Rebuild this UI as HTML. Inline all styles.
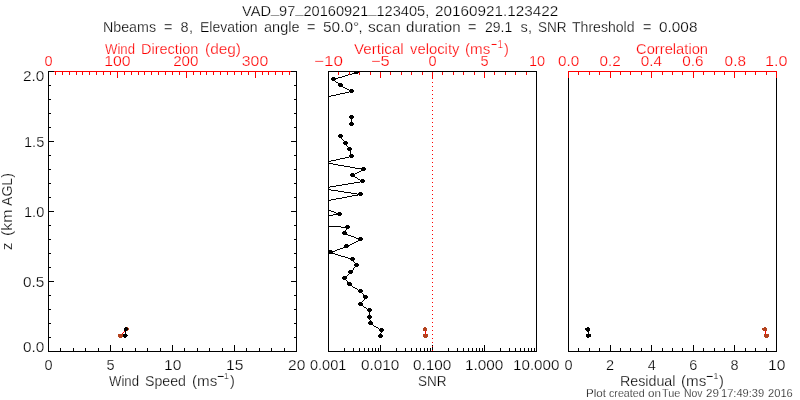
<!DOCTYPE html>
<html><head><meta charset="utf-8"><title>VAD_97_20160921_123405 wind profile</title>
<style>
html,body{margin:0;padding:0;background:#fff;width:800px;height:400px;overflow:hidden}
svg{display:block;will-change:transform}
text{font-family:"Liberation Sans",sans-serif;white-space:pre;stroke:#fff;stroke-width:0.25px}
</style></head><body>
<svg width="800" height="400" viewBox="0 0 800 400" shape-rendering="crispEdges">
<rect width="800" height="400" fill="#fff"/>
<path fill="#000000" d="M48 71h6v1h-6zM291 71h6v1h-6zM328 71h209v1h-209zM48 72h1v1h-1zM296 72h1v1h-1zM328 72h1v1h-1zM354 72h5v1h-5zM536 72h1v1h-1zM48 73h1v1h-1zM296 73h1v1h-1zM328 73h1v1h-1zM352 73h6v1h-6zM536 73h1v1h-1zM48 74h1v1h-1zM296 74h1v1h-1zM328 74h1v1h-1zM348 74h1v1h-1zM350 74h2v1h-2zM536 74h1v1h-1zM48 75h1v1h-1zM296 75h1v1h-1zM328 75h1v1h-1zM345 75h3v1h-3zM536 75h1v1h-1zM48 76h1v1h-1zM296 76h1v1h-1zM328 76h1v1h-1zM342 76h3v1h-3zM536 76h1v1h-1zM48 77h1v1h-1zM296 77h1v1h-1zM328 77h1v1h-1zM332 77h3v1h-3zM338 77h4v1h-4zM536 77h1v1h-1zM48 78h1v1h-1zM296 78h1v1h-1zM328 78h1v1h-1zM331 78h7v1h-7zM536 78h1v1h-1zM568 78h1v1h-1zM776 78h1v1h-1zM48 79h1v1h-1zM296 79h1v1h-1zM328 79h1v1h-1zM331 79h5v1h-5zM536 79h1v1h-1zM568 79h1v1h-1zM776 79h1v1h-1zM48 80h1v1h-1zM296 80h1v1h-1zM328 80h1v1h-1zM332 80h3v1h-3zM536 80h1v1h-1zM568 80h1v1h-1zM776 80h1v1h-1zM48 81h1v1h-1zM296 81h1v1h-1zM328 81h1v1h-1zM335 81h1v1h-1zM536 81h1v1h-1zM568 81h1v1h-1zM776 81h1v1h-1zM48 82h1v1h-1zM296 82h1v1h-1zM328 82h1v1h-1zM336 82h2v1h-2zM536 82h1v1h-1zM568 82h1v1h-1zM776 82h1v1h-1zM48 83h1v1h-1zM296 83h1v1h-1zM328 83h1v1h-1zM338 83h4v1h-4zM536 83h1v1h-1zM568 83h1v1h-1zM776 83h1v1h-1zM48 84h1v1h-1zM296 84h1v1h-1zM328 84h1v1h-1zM338 84h5v1h-5zM536 84h1v1h-1zM568 84h1v1h-1zM776 84h1v1h-1zM48 85h3v1h-3zM294 85h3v1h-3zM328 85h1v1h-1zM338 85h5v1h-5zM536 85h1v1h-1zM568 85h1v1h-1zM776 85h1v1h-1zM48 86h1v1h-1zM296 86h1v1h-1zM328 86h1v1h-1zM339 86h4v1h-4zM536 86h1v1h-1zM568 86h1v1h-1zM776 86h1v1h-1zM48 87h1v1h-1zM296 87h1v1h-1zM328 87h1v1h-1zM343 87h2v1h-2zM536 87h1v1h-1zM568 87h1v1h-1zM776 87h1v1h-1zM48 88h1v1h-1zM296 88h1v1h-1zM328 88h1v1h-1zM345 88h2v1h-2zM536 88h1v1h-1zM568 88h1v1h-1zM776 88h1v1h-1zM48 89h1v1h-1zM296 89h1v1h-1zM328 89h1v1h-1zM347 89h2v1h-2zM350 89h3v1h-3zM536 89h1v1h-1zM568 89h1v1h-1zM776 89h1v1h-1zM48 90h1v1h-1zM296 90h1v1h-1zM328 90h1v1h-1zM349 90h5v1h-5zM536 90h1v1h-1zM568 90h1v1h-1zM776 90h1v1h-1zM48 91h1v1h-1zM296 91h1v1h-1zM328 91h1v1h-1zM349 91h5v1h-5zM536 91h1v1h-1zM568 91h1v1h-1zM776 91h1v1h-1zM48 92h1v1h-1zM296 92h1v1h-1zM328 92h1v1h-1zM345 92h4v1h-4zM350 92h3v1h-3zM536 92h1v1h-1zM568 92h1v1h-1zM776 92h1v1h-1zM48 93h1v1h-1zM296 93h1v1h-1zM328 93h1v1h-1zM340 93h5v1h-5zM536 93h1v1h-1zM568 93h1v1h-1zM776 93h1v1h-1zM48 94h1v1h-1zM296 94h1v1h-1zM328 94h1v1h-1zM336 94h4v1h-4zM536 94h1v1h-1zM568 94h1v1h-1zM776 94h1v1h-1zM48 95h1v1h-1zM296 95h1v1h-1zM328 95h1v1h-1zM331 95h5v1h-5zM536 95h1v1h-1zM568 95h1v1h-1zM776 95h1v1h-1zM48 96h1v1h-1zM296 96h1v1h-1zM328 96h3v1h-3zM536 96h1v1h-1zM568 96h1v1h-1zM776 96h1v1h-1zM48 97h1v1h-1zM296 97h1v1h-1zM328 97h1v1h-1zM536 97h1v1h-1zM568 97h1v1h-1zM776 97h1v1h-1zM48 98h1v1h-1zM296 98h1v1h-1zM328 98h1v1h-1zM536 98h1v1h-1zM568 98h1v1h-1zM776 98h1v1h-1zM48 99h3v1h-3zM294 99h3v1h-3zM328 99h1v1h-1zM536 99h1v1h-1zM568 99h1v1h-1zM776 99h1v1h-1zM48 100h1v1h-1zM296 100h1v1h-1zM328 100h1v1h-1zM536 100h1v1h-1zM568 100h1v1h-1zM776 100h1v1h-1zM48 101h1v1h-1zM296 101h1v1h-1zM328 101h1v1h-1zM536 101h1v1h-1zM568 101h1v1h-1zM776 101h1v1h-1zM48 102h1v1h-1zM296 102h1v1h-1zM328 102h1v1h-1zM536 102h1v1h-1zM568 102h1v1h-1zM776 102h1v1h-1zM48 103h1v1h-1zM296 103h1v1h-1zM328 103h1v1h-1zM536 103h1v1h-1zM568 103h1v1h-1zM776 103h1v1h-1zM48 104h1v1h-1zM296 104h1v1h-1zM328 104h1v1h-1zM536 104h1v1h-1zM568 104h1v1h-1zM776 104h1v1h-1zM48 105h1v1h-1zM296 105h1v1h-1zM328 105h1v1h-1zM536 105h1v1h-1zM568 105h1v1h-1zM776 105h1v1h-1zM48 106h1v1h-1zM296 106h1v1h-1zM328 106h1v1h-1zM536 106h1v1h-1zM568 106h1v1h-1zM776 106h1v1h-1zM48 107h1v1h-1zM296 107h1v1h-1zM328 107h1v1h-1zM536 107h1v1h-1zM568 107h1v1h-1zM776 107h1v1h-1zM48 108h1v1h-1zM296 108h1v1h-1zM328 108h1v1h-1zM536 108h1v1h-1zM568 108h1v1h-1zM776 108h1v1h-1zM48 109h1v1h-1zM296 109h1v1h-1zM328 109h1v1h-1zM536 109h1v1h-1zM568 109h1v1h-1zM776 109h1v1h-1zM48 110h1v1h-1zM296 110h1v1h-1zM328 110h1v1h-1zM536 110h1v1h-1zM568 110h1v1h-1zM776 110h1v1h-1zM48 111h1v1h-1zM296 111h1v1h-1zM328 111h1v1h-1zM536 111h1v1h-1zM568 111h1v1h-1zM776 111h1v1h-1zM48 112h1v1h-1zM296 112h1v1h-1zM328 112h1v1h-1zM536 112h1v1h-1zM568 112h1v1h-1zM776 112h1v1h-1zM48 113h3v1h-3zM294 113h3v1h-3zM328 113h1v1h-1zM536 113h1v1h-1zM568 113h1v1h-1zM776 113h1v1h-1zM48 114h1v1h-1zM296 114h1v1h-1zM328 114h1v1h-1zM536 114h1v1h-1zM568 114h1v1h-1zM776 114h1v1h-1zM48 115h1v1h-1zM296 115h1v1h-1zM328 115h1v1h-1zM350 115h3v1h-3zM536 115h1v1h-1zM568 115h1v1h-1zM776 115h1v1h-1zM48 116h1v1h-1zM296 116h1v1h-1zM328 116h1v1h-1zM349 116h5v1h-5zM536 116h1v1h-1zM568 116h1v1h-1zM776 116h1v1h-1zM48 117h1v1h-1zM296 117h1v1h-1zM328 117h1v1h-1zM349 117h5v1h-5zM536 117h1v1h-1zM568 117h1v1h-1zM776 117h1v1h-1zM48 118h1v1h-1zM296 118h1v1h-1zM328 118h1v1h-1zM350 118h3v1h-3zM536 118h1v1h-1zM568 118h1v1h-1zM776 118h1v1h-1zM48 119h1v1h-1zM296 119h1v1h-1zM328 119h1v1h-1zM351 119h1v1h-1zM536 119h1v1h-1zM568 119h1v1h-1zM776 119h1v1h-1zM48 120h1v1h-1zM296 120h1v1h-1zM328 120h1v1h-1zM351 120h1v1h-1zM536 120h1v1h-1zM568 120h1v1h-1zM776 120h1v1h-1zM48 121h1v1h-1zM296 121h1v1h-1zM328 121h1v1h-1zM351 121h1v1h-1zM536 121h1v1h-1zM568 121h1v1h-1zM776 121h1v1h-1zM48 122h1v1h-1zM296 122h1v1h-1zM328 122h1v1h-1zM350 122h3v1h-3zM536 122h1v1h-1zM568 122h1v1h-1zM776 122h1v1h-1zM48 123h1v1h-1zM296 123h1v1h-1zM328 123h1v1h-1zM349 123h5v1h-5zM536 123h1v1h-1zM568 123h1v1h-1zM776 123h1v1h-1zM48 124h1v1h-1zM296 124h1v1h-1zM328 124h1v1h-1zM349 124h5v1h-5zM536 124h1v1h-1zM568 124h1v1h-1zM776 124h1v1h-1zM48 125h1v1h-1zM296 125h1v1h-1zM328 125h1v1h-1zM350 125h3v1h-3zM536 125h1v1h-1zM568 125h1v1h-1zM776 125h1v1h-1zM48 126h1v1h-1zM296 126h1v1h-1zM328 126h1v1h-1zM536 126h1v1h-1zM568 126h1v1h-1zM776 126h1v1h-1zM48 127h3v1h-3zM294 127h3v1h-3zM328 127h1v1h-1zM536 127h1v1h-1zM568 127h1v1h-1zM776 127h1v1h-1zM48 128h1v1h-1zM296 128h1v1h-1zM328 128h1v1h-1zM536 128h1v1h-1zM568 128h1v1h-1zM776 128h1v1h-1zM48 129h1v1h-1zM296 129h1v1h-1zM328 129h1v1h-1zM536 129h1v1h-1zM568 129h1v1h-1zM776 129h1v1h-1zM48 130h1v1h-1zM296 130h1v1h-1zM328 130h1v1h-1zM536 130h1v1h-1zM568 130h1v1h-1zM776 130h1v1h-1zM48 131h1v1h-1zM296 131h1v1h-1zM328 131h1v1h-1zM536 131h1v1h-1zM568 131h1v1h-1zM776 131h1v1h-1zM48 132h1v1h-1zM296 132h1v1h-1zM328 132h1v1h-1zM536 132h1v1h-1zM568 132h1v1h-1zM776 132h1v1h-1zM48 133h1v1h-1zM296 133h1v1h-1zM328 133h1v1h-1zM536 133h1v1h-1zM568 133h1v1h-1zM776 133h1v1h-1zM48 134h1v1h-1zM296 134h1v1h-1zM328 134h1v1h-1zM339 134h3v1h-3zM536 134h1v1h-1zM568 134h1v1h-1zM776 134h1v1h-1zM48 135h1v1h-1zM296 135h1v1h-1zM328 135h1v1h-1zM338 135h5v1h-5zM536 135h1v1h-1zM568 135h1v1h-1zM776 135h1v1h-1zM48 136h1v1h-1zM296 136h1v1h-1zM328 136h1v1h-1zM338 136h5v1h-5zM536 136h1v1h-1zM568 136h1v1h-1zM776 136h1v1h-1zM48 137h1v1h-1zM296 137h1v1h-1zM328 137h1v1h-1zM339 137h3v1h-3zM536 137h1v1h-1zM568 137h1v1h-1zM776 137h1v1h-1zM48 138h1v1h-1zM296 138h1v1h-1zM328 138h1v1h-1zM341 138h1v1h-1zM536 138h1v1h-1zM568 138h1v1h-1zM776 138h1v1h-1zM48 139h1v1h-1zM296 139h1v1h-1zM328 139h1v1h-1zM342 139h1v1h-1zM536 139h1v1h-1zM568 139h1v1h-1zM776 139h1v1h-1zM48 140h1v1h-1zM296 140h1v1h-1zM328 140h1v1h-1zM343 140h1v1h-1zM536 140h1v1h-1zM568 140h1v1h-1zM776 140h1v1h-1zM48 141h6v1h-6zM291 141h6v1h-6zM328 141h1v1h-1zM344 141h3v1h-3zM536 141h1v1h-1zM568 141h1v1h-1zM776 141h1v1h-1zM48 142h1v1h-1zM296 142h1v1h-1zM328 142h1v1h-1zM343 142h5v1h-5zM536 142h1v1h-1zM568 142h1v1h-1zM776 142h1v1h-1zM48 143h1v1h-1zM296 143h1v1h-1zM328 143h1v1h-1zM343 143h5v1h-5zM536 143h1v1h-1zM568 143h1v1h-1zM776 143h1v1h-1zM48 144h1v1h-1zM296 144h1v1h-1zM328 144h1v1h-1zM344 144h3v1h-3zM536 144h1v1h-1zM568 144h1v1h-1zM776 144h1v1h-1zM48 145h1v1h-1zM296 145h1v1h-1zM328 145h1v1h-1zM346 145h1v1h-1zM536 145h1v1h-1zM568 145h1v1h-1zM776 145h1v1h-1zM48 146h1v1h-1zM296 146h1v1h-1zM328 146h1v1h-1zM347 146h1v1h-1zM536 146h1v1h-1zM568 146h1v1h-1zM776 146h1v1h-1zM48 147h1v1h-1zM296 147h1v1h-1zM328 147h1v1h-1zM348 147h3v1h-3zM536 147h1v1h-1zM568 147h1v1h-1zM776 147h1v1h-1zM48 148h1v1h-1zM296 148h1v1h-1zM328 148h1v1h-1zM347 148h5v1h-5zM536 148h1v1h-1zM568 148h1v1h-1zM776 148h1v1h-1zM48 149h1v1h-1zM296 149h1v1h-1zM328 149h1v1h-1zM347 149h5v1h-5zM536 149h1v1h-1zM568 149h1v1h-1zM776 149h1v1h-1zM48 150h1v1h-1zM296 150h1v1h-1zM328 150h1v1h-1zM348 150h3v1h-3zM536 150h1v1h-1zM568 150h1v1h-1zM776 150h1v1h-1zM48 151h1v1h-1zM296 151h1v1h-1zM328 151h1v1h-1zM350 151h1v1h-1zM536 151h1v1h-1zM568 151h1v1h-1zM776 151h1v1h-1zM48 152h1v1h-1zM296 152h1v1h-1zM328 152h1v1h-1zM350 152h1v1h-1zM536 152h1v1h-1zM568 152h1v1h-1zM776 152h1v1h-1zM48 153h1v1h-1zM296 153h1v1h-1zM328 153h1v1h-1zM350 153h1v1h-1zM536 153h1v1h-1zM568 153h1v1h-1zM776 153h1v1h-1zM48 154h1v1h-1zM296 154h1v1h-1zM328 154h1v1h-1zM350 154h3v1h-3zM536 154h1v1h-1zM568 154h1v1h-1zM776 154h1v1h-1zM48 155h3v1h-3zM294 155h3v1h-3zM328 155h1v1h-1zM349 155h5v1h-5zM536 155h1v1h-1zM568 155h1v1h-1zM776 155h1v1h-1zM48 156h1v1h-1zM296 156h1v1h-1zM328 156h1v1h-1zM349 156h5v1h-5zM536 156h1v1h-1zM568 156h1v1h-1zM776 156h1v1h-1zM48 157h1v1h-1zM296 157h1v1h-1zM328 157h1v1h-1zM345 157h4v1h-4zM350 157h3v1h-3zM536 157h1v1h-1zM568 157h1v1h-1zM776 157h1v1h-1zM48 158h1v1h-1zM296 158h1v1h-1zM328 158h1v1h-1zM340 158h5v1h-5zM536 158h1v1h-1zM568 158h1v1h-1zM776 158h1v1h-1zM48 159h1v1h-1zM296 159h1v1h-1zM328 159h1v1h-1zM336 159h4v1h-4zM536 159h1v1h-1zM568 159h1v1h-1zM776 159h1v1h-1zM48 160h1v1h-1zM296 160h1v1h-1zM328 160h1v1h-1zM331 160h5v1h-5zM536 160h1v1h-1zM568 160h1v1h-1zM776 160h1v1h-1zM48 161h1v1h-1zM296 161h1v1h-1zM328 161h3v1h-3zM536 161h1v1h-1zM568 161h1v1h-1zM776 161h1v1h-1zM48 162h1v1h-1zM296 162h1v1h-1zM328 162h1v1h-1zM536 162h1v1h-1zM568 162h1v1h-1zM776 162h1v1h-1zM48 163h1v1h-1zM296 163h1v1h-1zM328 163h5v1h-5zM536 163h1v1h-1zM568 163h1v1h-1zM776 163h1v1h-1zM48 164h1v1h-1zM296 164h1v1h-1zM328 164h1v1h-1zM333 164h5v1h-5zM536 164h1v1h-1zM568 164h1v1h-1zM776 164h1v1h-1zM48 165h1v1h-1zM296 165h1v1h-1zM328 165h1v1h-1zM338 165h6v1h-6zM536 165h1v1h-1zM568 165h1v1h-1zM776 165h1v1h-1zM48 166h1v1h-1zM296 166h1v1h-1zM328 166h1v1h-1zM344 166h6v1h-6zM536 166h1v1h-1zM568 166h1v1h-1zM776 166h1v1h-1zM48 167h1v1h-1zM296 167h1v1h-1zM328 167h1v1h-1zM350 167h5v1h-5zM362 167h3v1h-3zM536 167h1v1h-1zM568 167h1v1h-1zM776 167h1v1h-1zM48 168h1v1h-1zM296 168h1v1h-1zM328 168h1v1h-1zM355 168h11v1h-11zM536 168h1v1h-1zM568 168h1v1h-1zM776 168h1v1h-1zM48 169h3v1h-3zM294 169h3v1h-3zM328 169h1v1h-1zM361 169h5v1h-5zM536 169h1v1h-1zM568 169h1v1h-1zM776 169h1v1h-1zM48 170h1v1h-1zM296 170h1v1h-1zM328 170h1v1h-1zM361 170h4v1h-4zM536 170h1v1h-1zM568 170h1v1h-1zM776 170h1v1h-1zM48 171h1v1h-1zM296 171h1v1h-1zM328 171h1v1h-1zM359 171h2v1h-2zM536 171h1v1h-1zM568 171h1v1h-1zM776 171h1v1h-1zM48 172h1v1h-1zM296 172h1v1h-1zM328 172h1v1h-1zM357 172h2v1h-2zM536 172h1v1h-1zM568 172h1v1h-1zM776 172h1v1h-1zM48 173h1v1h-1zM296 173h1v1h-1zM328 173h1v1h-1zM351 173h3v1h-3zM355 173h2v1h-2zM536 173h1v1h-1zM568 173h1v1h-1zM776 173h1v1h-1zM48 174h1v1h-1zM296 174h1v1h-1zM328 174h1v1h-1zM350 174h5v1h-5zM536 174h1v1h-1zM568 174h1v1h-1zM776 174h1v1h-1zM48 175h1v1h-1zM296 175h1v1h-1zM328 175h1v1h-1zM350 175h5v1h-5zM536 175h1v1h-1zM568 175h1v1h-1zM776 175h1v1h-1zM48 176h1v1h-1zM296 176h1v1h-1zM328 176h1v1h-1zM351 176h4v1h-4zM536 176h1v1h-1zM568 176h1v1h-1zM776 176h1v1h-1zM48 177h1v1h-1zM296 177h1v1h-1zM328 177h1v1h-1zM355 177h2v1h-2zM536 177h1v1h-1zM568 177h1v1h-1zM776 177h1v1h-1zM48 178h1v1h-1zM296 178h1v1h-1zM328 178h1v1h-1zM357 178h1v1h-1zM536 178h1v1h-1zM568 178h1v1h-1zM776 178h1v1h-1zM48 179h1v1h-1zM296 179h1v1h-1zM328 179h1v1h-1zM358 179h2v1h-2zM361 179h3v1h-3zM536 179h1v1h-1zM568 179h1v1h-1zM776 179h1v1h-1zM48 180h1v1h-1zM296 180h1v1h-1zM328 180h1v1h-1zM360 180h5v1h-5zM536 180h1v1h-1zM568 180h1v1h-1zM776 180h1v1h-1zM48 181h1v1h-1zM296 181h1v1h-1zM328 181h1v1h-1zM360 181h5v1h-5zM536 181h1v1h-1zM568 181h1v1h-1zM776 181h1v1h-1zM48 182h1v1h-1zM296 182h1v1h-1zM328 182h1v1h-1zM354 182h6v1h-6zM361 182h3v1h-3zM536 182h1v1h-1zM568 182h1v1h-1zM776 182h1v1h-1zM48 183h3v1h-3zM294 183h3v1h-3zM328 183h1v1h-1zM348 183h6v1h-6zM536 183h1v1h-1zM568 183h1v1h-1zM776 183h1v1h-1zM48 184h1v1h-1zM296 184h1v1h-1zM328 184h1v1h-1zM342 184h6v1h-6zM536 184h1v1h-1zM568 184h1v1h-1zM776 184h1v1h-1zM48 185h1v1h-1zM296 185h1v1h-1zM328 185h1v1h-1zM336 185h6v1h-6zM536 185h1v1h-1zM568 185h1v1h-1zM776 185h1v1h-1zM48 186h1v1h-1zM296 186h1v1h-1zM328 186h1v1h-1zM330 186h6v1h-6zM536 186h1v1h-1zM568 186h1v1h-1zM776 186h1v1h-1zM48 187h1v1h-1zM296 187h1v1h-1zM328 187h2v1h-2zM536 187h1v1h-1zM568 187h1v1h-1zM776 187h1v1h-1zM48 188h1v1h-1zM296 188h1v1h-1zM328 188h1v1h-1zM536 188h1v1h-1zM568 188h1v1h-1zM776 188h1v1h-1zM48 189h1v1h-1zM296 189h1v1h-1zM328 189h3v1h-3zM536 189h1v1h-1zM568 189h1v1h-1zM776 189h1v1h-1zM48 190h1v1h-1zM296 190h1v1h-1zM328 190h1v1h-1zM331 190h7v1h-7zM536 190h1v1h-1zM568 190h1v1h-1zM776 190h1v1h-1zM48 191h1v1h-1zM296 191h1v1h-1zM328 191h1v1h-1zM338 191h6v1h-6zM536 191h1v1h-1zM568 191h1v1h-1zM776 191h1v1h-1zM48 192h1v1h-1zM296 192h1v1h-1zM328 192h1v1h-1zM344 192h7v1h-7zM359 192h3v1h-3zM536 192h1v1h-1zM568 192h1v1h-1zM776 192h1v1h-1zM48 193h1v1h-1zM296 193h1v1h-1zM328 193h1v1h-1zM351 193h6v1h-6zM358 193h5v1h-5zM536 193h1v1h-1zM568 193h1v1h-1zM776 193h1v1h-1zM48 194h1v1h-1zM296 194h1v1h-1zM328 194h1v1h-1zM357 194h6v1h-6zM536 194h1v1h-1zM568 194h1v1h-1zM776 194h1v1h-1zM48 195h1v1h-1zM296 195h1v1h-1zM328 195h1v1h-1zM352 195h6v1h-6zM359 195h3v1h-3zM536 195h1v1h-1zM568 195h1v1h-1zM776 195h1v1h-1zM48 196h1v1h-1zM296 196h1v1h-1zM328 196h1v1h-1zM347 196h5v1h-5zM536 196h1v1h-1zM568 196h1v1h-1zM776 196h1v1h-1zM48 197h3v1h-3zM294 197h3v1h-3zM328 197h1v1h-1zM342 197h5v1h-5zM536 197h1v1h-1zM568 197h1v1h-1zM776 197h1v1h-1zM48 198h1v1h-1zM296 198h1v1h-1zM328 198h1v1h-1zM336 198h6v1h-6zM536 198h1v1h-1zM568 198h1v1h-1zM776 198h1v1h-1zM48 199h1v1h-1zM296 199h1v1h-1zM328 199h1v1h-1zM331 199h5v1h-5zM536 199h1v1h-1zM568 199h1v1h-1zM776 199h1v1h-1zM48 200h1v1h-1zM296 200h1v1h-1zM328 200h3v1h-3zM536 200h1v1h-1zM568 200h1v1h-1zM776 200h1v1h-1zM48 201h1v1h-1zM296 201h1v1h-1zM328 201h1v1h-1zM536 201h1v1h-1zM568 201h1v1h-1zM776 201h1v1h-1zM48 202h1v1h-1zM296 202h1v1h-1zM328 202h1v1h-1zM536 202h1v1h-1zM568 202h1v1h-1zM776 202h1v1h-1zM48 203h1v1h-1zM296 203h1v1h-1zM328 203h1v1h-1zM536 203h1v1h-1zM568 203h1v1h-1zM776 203h1v1h-1zM48 204h1v1h-1zM296 204h1v1h-1zM328 204h1v1h-1zM536 204h1v1h-1zM568 204h1v1h-1zM776 204h1v1h-1zM48 205h1v1h-1zM296 205h1v1h-1zM328 205h1v1h-1zM536 205h1v1h-1zM568 205h1v1h-1zM776 205h1v1h-1zM48 206h1v1h-1zM296 206h1v1h-1zM328 206h1v1h-1zM536 206h1v1h-1zM568 206h1v1h-1zM776 206h1v1h-1zM48 207h1v1h-1zM296 207h1v1h-1zM328 207h1v1h-1zM536 207h1v1h-1zM568 207h1v1h-1zM776 207h1v1h-1zM48 208h1v1h-1zM296 208h1v1h-1zM328 208h1v1h-1zM536 208h1v1h-1zM568 208h1v1h-1zM776 208h1v1h-1zM48 209h1v1h-1zM296 209h1v1h-1zM328 209h1v1h-1zM536 209h1v1h-1zM568 209h1v1h-1zM776 209h1v1h-1zM48 210h1v1h-1zM296 210h1v1h-1zM328 210h3v1h-3zM536 210h1v1h-1zM568 210h1v1h-1zM776 210h1v1h-1zM48 211h6v1h-6zM291 211h6v1h-6zM328 211h1v1h-1zM331 211h3v1h-3zM536 211h1v1h-1zM568 211h1v1h-1zM776 211h1v1h-1zM48 212h1v1h-1zM296 212h1v1h-1zM328 212h1v1h-1zM334 212h2v1h-2zM338 212h3v1h-3zM536 212h1v1h-1zM568 212h1v1h-1zM776 212h1v1h-1zM48 213h1v1h-1zM296 213h1v1h-1zM328 213h1v1h-1zM336 213h6v1h-6zM536 213h1v1h-1zM568 213h1v1h-1zM776 213h1v1h-1zM48 214h1v1h-1zM296 214h1v1h-1zM328 214h1v1h-1zM333 214h9v1h-9zM536 214h1v1h-1zM568 214h1v1h-1zM776 214h1v1h-1zM48 215h1v1h-1zM296 215h1v1h-1zM328 215h5v1h-5zM338 215h3v1h-3zM536 215h1v1h-1zM568 215h1v1h-1zM776 215h1v1h-1zM48 216h1v1h-1zM296 216h1v1h-1zM328 216h1v1h-1zM536 216h1v1h-1zM568 216h1v1h-1zM776 216h1v1h-1zM48 217h1v1h-1zM296 217h1v1h-1zM328 217h1v1h-1zM536 217h1v1h-1zM568 217h1v1h-1zM776 217h1v1h-1zM48 218h1v1h-1zM296 218h1v1h-1zM328 218h1v1h-1zM536 218h1v1h-1zM568 218h1v1h-1zM776 218h1v1h-1zM48 219h1v1h-1zM296 219h1v1h-1zM328 219h1v1h-1zM536 219h1v1h-1zM568 219h1v1h-1zM776 219h1v1h-1zM48 220h1v1h-1zM296 220h1v1h-1zM328 220h1v1h-1zM536 220h1v1h-1zM568 220h1v1h-1zM776 220h1v1h-1zM48 221h1v1h-1zM296 221h1v1h-1zM328 221h1v1h-1zM536 221h1v1h-1zM568 221h1v1h-1zM776 221h1v1h-1zM48 222h1v1h-1zM296 222h1v1h-1zM328 222h1v1h-1zM536 222h1v1h-1zM568 222h1v1h-1zM776 222h1v1h-1zM48 223h1v1h-1zM296 223h1v1h-1zM328 223h1v1h-1zM536 223h1v1h-1zM568 223h1v1h-1zM776 223h1v1h-1zM48 224h1v1h-1zM296 224h1v1h-1zM328 224h1v1h-1zM536 224h1v1h-1zM568 224h1v1h-1zM776 224h1v1h-1zM48 225h3v1h-3zM294 225h3v1h-3zM328 225h1v1h-1zM346 225h3v1h-3zM536 225h1v1h-1zM568 225h1v1h-1zM776 225h1v1h-1zM48 226h1v1h-1zM296 226h1v1h-1zM328 226h13v1h-13zM345 226h5v1h-5zM536 226h1v1h-1zM568 226h1v1h-1zM776 226h1v1h-1zM48 227h1v1h-1zM296 227h1v1h-1zM328 227h1v1h-1zM341 227h9v1h-9zM536 227h1v1h-1zM568 227h1v1h-1zM776 227h1v1h-1zM48 228h1v1h-1zM296 228h1v1h-1zM328 228h1v1h-1zM346 228h3v1h-3zM536 228h1v1h-1zM568 228h1v1h-1zM776 228h1v1h-1zM48 229h1v1h-1zM296 229h1v1h-1zM328 229h1v1h-1zM346 229h1v1h-1zM536 229h1v1h-1zM568 229h1v1h-1zM776 229h1v1h-1zM48 230h1v1h-1zM296 230h1v1h-1zM328 230h1v1h-1zM345 230h1v1h-1zM536 230h1v1h-1zM568 230h1v1h-1zM776 230h1v1h-1zM48 231h1v1h-1zM296 231h1v1h-1zM328 231h1v1h-1zM343 231h3v1h-3zM536 231h1v1h-1zM568 231h1v1h-1zM776 231h1v1h-1zM48 232h1v1h-1zM296 232h1v1h-1zM328 232h1v1h-1zM342 232h5v1h-5zM536 232h1v1h-1zM568 232h1v1h-1zM776 232h1v1h-1zM48 233h1v1h-1zM296 233h1v1h-1zM328 233h1v1h-1zM342 233h5v1h-5zM536 233h1v1h-1zM568 233h1v1h-1zM776 233h1v1h-1zM48 234h1v1h-1zM296 234h1v1h-1zM328 234h1v1h-1zM343 234h5v1h-5zM536 234h1v1h-1zM568 234h1v1h-1zM776 234h1v1h-1zM48 235h1v1h-1zM296 235h1v1h-1zM328 235h1v1h-1zM348 235h3v1h-3zM536 235h1v1h-1zM568 235h1v1h-1zM776 235h1v1h-1zM48 236h1v1h-1zM296 236h1v1h-1zM328 236h1v1h-1zM351 236h3v1h-3zM536 236h1v1h-1zM568 236h1v1h-1zM776 236h1v1h-1zM48 237h1v1h-1zM296 237h1v1h-1zM328 237h1v1h-1zM354 237h2v1h-2zM359 237h3v1h-3zM536 237h1v1h-1zM568 237h1v1h-1zM776 237h1v1h-1zM48 238h1v1h-1zM296 238h1v1h-1zM328 238h1v1h-1zM356 238h7v1h-7zM536 238h1v1h-1zM568 238h1v1h-1zM776 238h1v1h-1zM48 239h3v1h-3zM294 239h3v1h-3zM328 239h1v1h-1zM358 239h5v1h-5zM536 239h1v1h-1zM568 239h1v1h-1zM776 239h1v1h-1zM48 240h1v1h-1zM296 240h1v1h-1zM328 240h1v1h-1zM358 240h4v1h-4zM536 240h1v1h-1zM568 240h1v1h-1zM776 240h1v1h-1zM48 241h1v1h-1zM296 241h1v1h-1zM328 241h1v1h-1zM356 241h2v1h-2zM536 241h1v1h-1zM568 241h1v1h-1zM776 241h1v1h-1zM48 242h1v1h-1zM296 242h1v1h-1zM328 242h1v1h-1zM354 242h2v1h-2zM536 242h1v1h-1zM568 242h1v1h-1zM776 242h1v1h-1zM48 243h1v1h-1zM296 243h1v1h-1zM328 243h1v1h-1zM352 243h2v1h-2zM536 243h1v1h-1zM568 243h1v1h-1zM776 243h1v1h-1zM48 244h1v1h-1zM296 244h1v1h-1zM328 244h1v1h-1zM345 244h3v1h-3zM350 244h2v1h-2zM536 244h1v1h-1zM568 244h1v1h-1zM776 244h1v1h-1zM48 245h1v1h-1zM296 245h1v1h-1zM328 245h1v1h-1zM344 245h6v1h-6zM536 245h1v1h-1zM568 245h1v1h-1zM776 245h1v1h-1zM48 246h1v1h-1zM296 246h1v1h-1zM328 246h1v1h-1zM344 246h5v1h-5zM536 246h1v1h-1zM568 246h1v1h-1zM776 246h1v1h-1zM48 247h1v1h-1zM296 247h1v1h-1zM328 247h1v1h-1zM343 247h5v1h-5zM536 247h1v1h-1zM568 247h1v1h-1zM776 247h1v1h-1zM48 248h1v1h-1zM296 248h1v1h-1zM328 248h1v1h-1zM340 248h3v1h-3zM536 248h1v1h-1zM568 248h1v1h-1zM776 248h1v1h-1zM48 249h1v1h-1zM296 249h1v1h-1zM328 249h1v1h-1zM337 249h3v1h-3zM536 249h1v1h-1zM568 249h1v1h-1zM776 249h1v1h-1zM48 250h1v1h-1zM296 250h1v1h-1zM328 250h4v1h-4zM335 250h2v1h-2zM536 250h1v1h-1zM568 250h1v1h-1zM776 250h1v1h-1zM48 251h1v1h-1zM296 251h1v1h-1zM328 251h7v1h-7zM536 251h1v1h-1zM568 251h1v1h-1zM776 251h1v1h-1zM48 252h1v1h-1zM296 252h1v1h-1zM328 252h5v1h-5zM536 252h1v1h-1zM568 252h1v1h-1zM776 252h1v1h-1zM48 253h3v1h-3zM294 253h3v1h-3zM328 253h7v1h-7zM536 253h1v1h-1zM568 253h1v1h-1zM776 253h1v1h-1zM48 254h1v1h-1zM296 254h1v1h-1zM328 254h1v1h-1zM335 254h3v1h-3zM536 254h1v1h-1zM568 254h1v1h-1zM776 254h1v1h-1zM48 255h1v1h-1zM296 255h1v1h-1zM328 255h1v1h-1zM338 255h3v1h-3zM536 255h1v1h-1zM568 255h1v1h-1zM776 255h1v1h-1zM48 256h1v1h-1zM296 256h1v1h-1zM328 256h1v1h-1zM341 256h4v1h-4zM536 256h1v1h-1zM568 256h1v1h-1zM776 256h1v1h-1zM48 257h1v1h-1zM296 257h1v1h-1zM328 257h1v1h-1zM345 257h3v1h-3zM351 257h3v1h-3zM536 257h1v1h-1zM568 257h1v1h-1zM776 257h1v1h-1zM48 258h1v1h-1zM296 258h1v1h-1zM328 258h1v1h-1zM348 258h7v1h-7zM536 258h1v1h-1zM568 258h1v1h-1zM776 258h1v1h-1zM48 259h1v1h-1zM296 259h1v1h-1zM328 259h1v1h-1zM350 259h5v1h-5zM536 259h1v1h-1zM568 259h1v1h-1zM776 259h1v1h-1zM48 260h1v1h-1zM296 260h1v1h-1zM328 260h1v1h-1zM351 260h3v1h-3zM536 260h1v1h-1zM568 260h1v1h-1zM776 260h1v1h-1zM48 261h1v1h-1zM296 261h1v1h-1zM328 261h1v1h-1zM353 261h1v1h-1zM536 261h1v1h-1zM568 261h1v1h-1zM776 261h1v1h-1zM48 262h1v1h-1zM296 262h1v1h-1zM328 262h1v1h-1zM354 262h1v1h-1zM536 262h1v1h-1zM568 262h1v1h-1zM776 262h1v1h-1zM48 263h1v1h-1zM296 263h1v1h-1zM328 263h1v1h-1zM355 263h3v1h-3zM536 263h1v1h-1zM568 263h1v1h-1zM776 263h1v1h-1zM48 264h1v1h-1zM296 264h1v1h-1zM328 264h1v1h-1zM354 264h5v1h-5zM536 264h1v1h-1zM568 264h1v1h-1zM776 264h1v1h-1zM48 265h1v1h-1zM296 265h1v1h-1zM328 265h1v1h-1zM354 265h5v1h-5zM536 265h1v1h-1zM568 265h1v1h-1zM776 265h1v1h-1zM48 266h1v1h-1zM296 266h1v1h-1zM328 266h1v1h-1zM355 266h3v1h-3zM536 266h1v1h-1zM568 266h1v1h-1zM776 266h1v1h-1zM48 267h3v1h-3zM294 267h3v1h-3zM328 267h1v1h-1zM354 267h1v1h-1zM536 267h1v1h-1zM568 267h1v1h-1zM776 267h1v1h-1zM48 268h1v1h-1zM296 268h1v1h-1zM328 268h1v1h-1zM353 268h1v1h-1zM536 268h1v1h-1zM568 268h1v1h-1zM776 268h1v1h-1zM48 269h1v1h-1zM296 269h1v1h-1zM328 269h1v1h-1zM353 269h1v1h-1zM536 269h1v1h-1zM568 269h1v1h-1zM776 269h1v1h-1zM48 270h1v1h-1zM296 270h1v1h-1zM328 270h1v1h-1zM349 270h4v1h-4zM536 270h1v1h-1zM568 270h1v1h-1zM776 270h1v1h-1zM48 271h1v1h-1zM296 271h1v1h-1zM328 271h1v1h-1zM348 271h5v1h-5zM536 271h1v1h-1zM568 271h1v1h-1zM776 271h1v1h-1zM48 272h1v1h-1zM296 272h1v1h-1zM328 272h1v1h-1zM348 272h5v1h-5zM536 272h1v1h-1zM568 272h1v1h-1zM776 272h1v1h-1zM48 273h1v1h-1zM296 273h1v1h-1zM328 273h1v1h-1zM349 273h3v1h-3zM536 273h1v1h-1zM568 273h1v1h-1zM776 273h1v1h-1zM48 274h1v1h-1zM296 274h1v1h-1zM328 274h1v1h-1zM348 274h1v1h-1zM536 274h1v1h-1zM568 274h1v1h-1zM776 274h1v1h-1zM48 275h1v1h-1zM296 275h1v1h-1zM328 275h1v1h-1zM347 275h1v1h-1zM536 275h1v1h-1zM568 275h1v1h-1zM776 275h1v1h-1zM48 276h1v1h-1zM296 276h1v1h-1zM328 276h1v1h-1zM343 276h4v1h-4zM536 276h1v1h-1zM568 276h1v1h-1zM776 276h1v1h-1zM48 277h1v1h-1zM296 277h1v1h-1zM328 277h1v1h-1zM342 277h5v1h-5zM536 277h1v1h-1zM568 277h1v1h-1zM776 277h1v1h-1zM48 278h1v1h-1zM296 278h1v1h-1zM328 278h1v1h-1zM342 278h5v1h-5zM536 278h1v1h-1zM568 278h1v1h-1zM776 278h1v1h-1zM48 279h1v1h-1zM296 279h1v1h-1zM328 279h1v1h-1zM343 279h3v1h-3zM536 279h1v1h-1zM568 279h1v1h-1zM776 279h1v1h-1zM48 280h1v1h-1zM296 280h1v1h-1zM328 280h1v1h-1zM346 280h1v1h-1zM536 280h1v1h-1zM568 280h1v1h-1zM776 280h1v1h-1zM48 281h6v1h-6zM291 281h6v1h-6zM328 281h1v1h-1zM347 281h1v1h-1zM536 281h1v1h-1zM568 281h1v1h-1zM776 281h1v1h-1zM48 282h1v1h-1zM296 282h1v1h-1zM328 282h1v1h-1zM347 282h4v1h-4zM536 282h1v1h-1zM568 282h1v1h-1zM776 282h1v1h-1zM48 283h1v1h-1zM296 283h1v1h-1zM328 283h1v1h-1zM347 283h5v1h-5zM536 283h1v1h-1zM568 283h1v1h-1zM776 283h1v1h-1zM48 284h1v1h-1zM296 284h1v1h-1zM328 284h1v1h-1zM347 284h5v1h-5zM536 284h1v1h-1zM568 284h1v1h-1zM776 284h1v1h-1zM48 285h1v1h-1zM296 285h1v1h-1zM328 285h1v1h-1zM348 285h4v1h-4zM536 285h1v1h-1zM568 285h1v1h-1zM776 285h1v1h-1zM48 286h1v1h-1zM296 286h1v1h-1zM328 286h1v1h-1zM352 286h1v1h-1zM536 286h1v1h-1zM568 286h1v1h-1zM776 286h1v1h-1zM48 287h1v1h-1zM296 287h1v1h-1zM328 287h1v1h-1zM353 287h2v1h-2zM536 287h1v1h-1zM568 287h1v1h-1zM776 287h1v1h-1zM48 288h1v1h-1zM296 288h1v1h-1zM328 288h1v1h-1zM355 288h2v1h-2zM536 288h1v1h-1zM568 288h1v1h-1zM776 288h1v1h-1zM48 289h1v1h-1zM296 289h1v1h-1zM328 289h1v1h-1zM357 289h1v1h-1zM359 289h3v1h-3zM536 289h1v1h-1zM568 289h1v1h-1zM776 289h1v1h-1zM48 290h1v1h-1zM296 290h1v1h-1zM328 290h1v1h-1zM358 290h5v1h-5zM536 290h1v1h-1zM568 290h1v1h-1zM776 290h1v1h-1zM48 291h1v1h-1zM296 291h1v1h-1zM328 291h1v1h-1zM358 291h5v1h-5zM536 291h1v1h-1zM568 291h1v1h-1zM776 291h1v1h-1zM48 292h1v1h-1zM296 292h1v1h-1zM328 292h1v1h-1zM359 292h3v1h-3zM536 292h1v1h-1zM568 292h1v1h-1zM776 292h1v1h-1zM48 293h1v1h-1zM296 293h1v1h-1zM328 293h1v1h-1zM362 293h1v1h-1zM536 293h1v1h-1zM568 293h1v1h-1zM776 293h1v1h-1zM48 294h1v1h-1zM296 294h1v1h-1zM328 294h1v1h-1zM363 294h1v1h-1zM536 294h1v1h-1zM568 294h1v1h-1zM776 294h1v1h-1zM48 295h3v1h-3zM294 295h3v1h-3zM328 295h1v1h-1zM363 295h4v1h-4zM536 295h1v1h-1zM568 295h1v1h-1zM776 295h1v1h-1zM48 296h1v1h-1zM296 296h1v1h-1zM328 296h1v1h-1zM363 296h5v1h-5zM536 296h1v1h-1zM568 296h1v1h-1zM776 296h1v1h-1zM48 297h1v1h-1zM296 297h1v1h-1zM328 297h1v1h-1zM363 297h5v1h-5zM536 297h1v1h-1zM568 297h1v1h-1zM776 297h1v1h-1zM48 298h1v1h-1zM296 298h1v1h-1zM328 298h1v1h-1zM364 298h3v1h-3zM536 298h1v1h-1zM568 298h1v1h-1zM776 298h1v1h-1zM48 299h1v1h-1zM296 299h1v1h-1zM328 299h1v1h-1zM364 299h1v1h-1zM536 299h1v1h-1zM568 299h1v1h-1zM776 299h1v1h-1zM48 300h1v1h-1zM296 300h1v1h-1zM328 300h1v1h-1zM363 300h1v1h-1zM536 300h1v1h-1zM568 300h1v1h-1zM776 300h1v1h-1zM48 301h1v1h-1zM296 301h1v1h-1zM328 301h1v1h-1zM362 301h1v1h-1zM536 301h1v1h-1zM568 301h1v1h-1zM776 301h1v1h-1zM48 302h1v1h-1zM296 302h1v1h-1zM328 302h1v1h-1zM359 302h3v1h-3zM536 302h1v1h-1zM568 302h1v1h-1zM776 302h1v1h-1zM48 303h1v1h-1zM296 303h1v1h-1zM328 303h1v1h-1zM358 303h5v1h-5zM536 303h1v1h-1zM568 303h1v1h-1zM776 303h1v1h-1zM48 304h1v1h-1zM296 304h1v1h-1zM328 304h1v1h-1zM358 304h5v1h-5zM536 304h1v1h-1zM568 304h1v1h-1zM776 304h1v1h-1zM48 305h1v1h-1zM296 305h1v1h-1zM328 305h1v1h-1zM359 305h4v1h-4zM536 305h1v1h-1zM568 305h1v1h-1zM776 305h1v1h-1zM48 306h1v1h-1zM296 306h1v1h-1zM328 306h1v1h-1zM363 306h1v1h-1zM536 306h1v1h-1zM568 306h1v1h-1zM776 306h1v1h-1zM48 307h1v1h-1zM296 307h1v1h-1zM328 307h1v1h-1zM364 307h2v1h-2zM536 307h1v1h-1zM568 307h1v1h-1zM776 307h1v1h-1zM48 308h1v1h-1zM296 308h1v1h-1zM328 308h1v1h-1zM366 308h1v1h-1zM368 308h3v1h-3zM536 308h1v1h-1zM568 308h1v1h-1zM776 308h1v1h-1zM48 309h3v1h-3zM294 309h3v1h-3zM328 309h1v1h-1zM367 309h5v1h-5zM536 309h1v1h-1zM568 309h1v1h-1zM776 309h1v1h-1zM48 310h1v1h-1zM296 310h1v1h-1zM328 310h1v1h-1zM367 310h5v1h-5zM536 310h1v1h-1zM568 310h1v1h-1zM776 310h1v1h-1zM48 311h1v1h-1zM296 311h1v1h-1zM328 311h1v1h-1zM368 311h3v1h-3zM536 311h1v1h-1zM568 311h1v1h-1zM776 311h1v1h-1zM48 312h1v1h-1zM296 312h1v1h-1zM328 312h1v1h-1zM369 312h1v1h-1zM536 312h1v1h-1zM568 312h1v1h-1zM776 312h1v1h-1zM48 313h1v1h-1zM296 313h1v1h-1zM328 313h1v1h-1zM369 313h1v1h-1zM536 313h1v1h-1zM568 313h1v1h-1zM776 313h1v1h-1zM48 314h1v1h-1zM296 314h1v1h-1zM328 314h1v1h-1zM369 314h1v1h-1zM536 314h1v1h-1zM568 314h1v1h-1zM776 314h1v1h-1zM48 315h1v1h-1zM296 315h1v1h-1zM328 315h1v1h-1zM368 315h3v1h-3zM536 315h1v1h-1zM568 315h1v1h-1zM776 315h1v1h-1zM48 316h1v1h-1zM296 316h1v1h-1zM328 316h1v1h-1zM367 316h5v1h-5zM536 316h1v1h-1zM568 316h1v1h-1zM776 316h1v1h-1zM48 317h1v1h-1zM296 317h1v1h-1zM328 317h1v1h-1zM367 317h5v1h-5zM536 317h1v1h-1zM568 317h1v1h-1zM776 317h1v1h-1zM48 318h1v1h-1zM296 318h1v1h-1zM328 318h1v1h-1zM368 318h3v1h-3zM536 318h1v1h-1zM568 318h1v1h-1zM776 318h1v1h-1zM48 319h1v1h-1zM296 319h1v1h-1zM328 319h1v1h-1zM369 319h1v1h-1zM536 319h1v1h-1zM568 319h1v1h-1zM776 319h1v1h-1zM48 320h1v1h-1zM296 320h1v1h-1zM328 320h1v1h-1zM370 320h1v1h-1zM536 320h1v1h-1zM568 320h1v1h-1zM776 320h1v1h-1zM48 321h1v1h-1zM296 321h1v1h-1zM328 321h1v1h-1zM369 321h3v1h-3zM536 321h1v1h-1zM568 321h1v1h-1zM776 321h1v1h-1zM48 322h1v1h-1zM296 322h1v1h-1zM328 322h1v1h-1zM368 322h5v1h-5zM536 322h1v1h-1zM568 322h1v1h-1zM776 322h1v1h-1zM48 323h3v1h-3zM294 323h3v1h-3zM328 323h1v1h-1zM368 323h5v1h-5zM536 323h1v1h-1zM568 323h1v1h-1zM776 323h1v1h-1zM48 324h1v1h-1zM296 324h1v1h-1zM328 324h1v1h-1zM369 324h4v1h-4zM536 324h1v1h-1zM568 324h1v1h-1zM776 324h1v1h-1zM48 325h1v1h-1zM296 325h1v1h-1zM328 325h1v1h-1zM373 325h1v1h-1zM536 325h1v1h-1zM568 325h1v1h-1zM776 325h1v1h-1zM48 326h1v1h-1zM296 326h1v1h-1zM328 326h1v1h-1zM374 326h2v1h-2zM536 326h1v1h-1zM568 326h1v1h-1zM776 326h1v1h-1zM48 327h1v1h-1zM125 327h2v1h-2zM296 327h1v1h-1zM328 327h1v1h-1zM376 327h2v1h-2zM536 327h1v1h-1zM568 327h1v1h-1zM587 327h2v1h-2zM776 327h1v1h-1zM48 328h1v1h-1zM124 328h4v1h-4zM296 328h1v1h-1zM328 328h1v1h-1zM378 328h1v1h-1zM380 328h3v1h-3zM536 328h1v1h-1zM568 328h1v1h-1zM585 328h5v1h-5zM776 328h1v1h-1zM48 329h1v1h-1zM124 329h4v1h-4zM296 329h1v1h-1zM328 329h1v1h-1zM379 329h5v1h-5zM536 329h1v1h-1zM568 329h1v1h-1zM585 329h5v1h-5zM776 329h1v1h-1zM48 330h1v1h-1zM124 330h3v1h-3zM296 330h1v1h-1zM328 330h1v1h-1zM379 330h5v1h-5zM536 330h1v1h-1zM568 330h1v1h-1zM586 330h4v1h-4zM776 330h1v1h-1zM48 331h1v1h-1zM125 331h1v1h-1zM296 331h1v1h-1zM328 331h1v1h-1zM380 331h3v1h-3zM536 331h1v1h-1zM568 331h1v1h-1zM587 331h2v1h-2zM776 331h1v1h-1zM48 332h1v1h-1zM125 332h1v1h-1zM296 332h1v1h-1zM328 332h1v1h-1zM381 332h1v1h-1zM536 332h1v1h-1zM568 332h1v1h-1zM588 332h1v1h-1zM776 332h1v1h-1zM48 333h1v1h-1zM125 333h1v1h-1zM296 333h1v1h-1zM328 333h1v1h-1zM380 333h1v1h-1zM536 333h1v1h-1zM568 333h1v1h-1zM588 333h1v1h-1zM776 333h1v1h-1zM48 334h1v1h-1zM123 334h4v1h-4zM296 334h1v1h-1zM328 334h1v1h-1zM379 334h3v1h-3zM536 334h1v1h-1zM568 334h1v1h-1zM586 334h5v1h-5zM776 334h1v1h-1zM48 335h1v1h-1zM123 335h5v1h-5zM296 335h1v1h-1zM328 335h1v1h-1zM378 335h5v1h-5zM536 335h1v1h-1zM568 335h1v1h-1zM586 335h5v1h-5zM776 335h1v1h-1zM48 336h1v1h-1zM123 336h4v1h-4zM296 336h1v1h-1zM328 336h1v1h-1zM378 336h5v1h-5zM536 336h1v1h-1zM568 336h1v1h-1zM586 336h5v1h-5zM776 336h1v1h-1zM48 337h3v1h-3zM124 337h2v1h-2zM294 337h3v1h-3zM328 337h1v1h-1zM379 337h3v1h-3zM536 337h1v1h-1zM568 337h1v1h-1zM587 337h2v1h-2zM776 337h1v1h-1zM48 338h1v1h-1zM296 338h1v1h-1zM328 338h1v1h-1zM536 338h1v1h-1zM568 338h1v1h-1zM776 338h1v1h-1zM48 339h1v1h-1zM296 339h1v1h-1zM328 339h1v1h-1zM536 339h1v1h-1zM568 339h1v1h-1zM776 339h1v1h-1zM48 340h1v1h-1zM296 340h1v1h-1zM328 340h1v1h-1zM536 340h1v1h-1zM568 340h1v1h-1zM776 340h1v1h-1zM48 341h1v1h-1zM296 341h1v1h-1zM328 341h1v1h-1zM536 341h1v1h-1zM568 341h1v1h-1zM776 341h1v1h-1zM48 342h1v1h-1zM296 342h1v1h-1zM328 342h1v1h-1zM536 342h1v1h-1zM568 342h1v1h-1zM776 342h1v1h-1zM48 343h1v1h-1zM296 343h1v1h-1zM328 343h1v1h-1zM536 343h1v1h-1zM568 343h1v1h-1zM776 343h1v1h-1zM48 344h1v1h-1zM296 344h1v1h-1zM328 344h1v1h-1zM536 344h1v1h-1zM568 344h1v1h-1zM776 344h1v1h-1zM48 345h1v1h-1zM110 345h1v1h-1zM172 345h1v1h-1zM234 345h1v1h-1zM296 345h1v1h-1zM328 345h1v1h-1zM380 345h1v1h-1zM432 345h1v1h-1zM484 345h1v1h-1zM536 345h1v1h-1zM568 345h1v1h-1zM610 345h1v1h-1zM651 345h1v1h-1zM693 345h1v1h-1zM734 345h1v1h-1zM776 345h1v1h-1zM48 346h1v1h-1zM110 346h1v1h-1zM172 346h1v1h-1zM234 346h1v1h-1zM296 346h1v1h-1zM328 346h1v1h-1zM380 346h1v1h-1zM484 346h1v1h-1zM536 346h1v1h-1zM568 346h1v1h-1zM610 346h1v1h-1zM651 346h1v1h-1zM693 346h1v1h-1zM734 346h1v1h-1zM776 346h1v1h-1zM48 347h1v1h-1zM110 347h1v1h-1zM172 347h1v1h-1zM234 347h1v1h-1zM296 347h1v1h-1zM328 347h1v1h-1zM380 347h1v1h-1zM432 347h1v1h-1zM484 347h1v1h-1zM536 347h1v1h-1zM568 347h1v1h-1zM610 347h1v1h-1zM651 347h1v1h-1zM693 347h1v1h-1zM734 347h1v1h-1zM776 347h1v1h-1zM48 348h1v1h-1zM60 348h1v1h-1zM73 348h1v1h-1zM85 348h1v1h-1zM98 348h1v1h-1zM110 348h1v1h-1zM122 348h1v1h-1zM135 348h1v1h-1zM147 348h1v1h-1zM160 348h1v1h-1zM172 348h1v1h-1zM184 348h1v1h-1zM197 348h1v1h-1zM209 348h1v1h-1zM222 348h1v1h-1zM234 348h1v1h-1zM246 348h1v1h-1zM259 348h1v1h-1zM271 348h1v1h-1zM284 348h1v1h-1zM296 348h1v1h-1zM328 348h1v1h-1zM344 348h1v1h-1zM353 348h1v1h-1zM359 348h1v1h-1zM364 348h1v1h-1zM368 348h1v1h-1zM372 348h1v1h-1zM375 348h1v1h-1zM378 348h1v1h-1zM380 348h1v1h-1zM396 348h1v1h-1zM405 348h1v1h-1zM411 348h1v1h-1zM416 348h1v1h-1zM420 348h1v1h-1zM424 348h1v1h-1zM427 348h1v1h-1zM430 348h1v1h-1zM432 348h1v1h-1zM448 348h1v1h-1zM457 348h1v1h-1zM463 348h1v1h-1zM468 348h1v1h-1zM472 348h1v1h-1zM476 348h1v1h-1zM479 348h1v1h-1zM482 348h1v1h-1zM484 348h1v1h-1zM500 348h1v1h-1zM509 348h1v1h-1zM515 348h1v1h-1zM520 348h1v1h-1zM524 348h1v1h-1zM528 348h1v1h-1zM531 348h1v1h-1zM534 348h1v1h-1zM536 348h1v1h-1zM568 348h1v1h-1zM578 348h1v1h-1zM589 348h1v1h-1zM599 348h1v1h-1zM610 348h1v1h-1zM620 348h1v1h-1zM630 348h1v1h-1zM641 348h1v1h-1zM651 348h1v1h-1zM662 348h1v1h-1zM672 348h1v1h-1zM682 348h1v1h-1zM693 348h1v1h-1zM703 348h1v1h-1zM714 348h1v1h-1zM724 348h1v1h-1zM734 348h1v1h-1zM745 348h1v1h-1zM755 348h1v1h-1zM766 348h1v1h-1zM776 348h1v1h-1zM48 349h1v1h-1zM60 349h1v1h-1zM73 349h1v1h-1zM85 349h1v1h-1zM98 349h1v1h-1zM110 349h1v1h-1zM122 349h1v1h-1zM135 349h1v1h-1zM147 349h1v1h-1zM160 349h1v1h-1zM172 349h1v1h-1zM184 349h1v1h-1zM197 349h1v1h-1zM209 349h1v1h-1zM222 349h1v1h-1zM234 349h1v1h-1zM246 349h1v1h-1zM259 349h1v1h-1zM271 349h1v1h-1zM284 349h1v1h-1zM296 349h1v1h-1zM328 349h1v1h-1zM344 349h1v1h-1zM353 349h1v1h-1zM359 349h1v1h-1zM364 349h1v1h-1zM368 349h1v1h-1zM372 349h1v1h-1zM375 349h1v1h-1zM378 349h1v1h-1zM380 349h1v1h-1zM396 349h1v1h-1zM405 349h1v1h-1zM411 349h1v1h-1zM416 349h1v1h-1zM420 349h1v1h-1zM424 349h1v1h-1zM427 349h1v1h-1zM430 349h1v1h-1zM432 349h1v1h-1zM448 349h1v1h-1zM457 349h1v1h-1zM463 349h1v1h-1zM468 349h1v1h-1zM472 349h1v1h-1zM476 349h1v1h-1zM479 349h1v1h-1zM482 349h1v1h-1zM484 349h1v1h-1zM500 349h1v1h-1zM509 349h1v1h-1zM515 349h1v1h-1zM520 349h1v1h-1zM524 349h1v1h-1zM528 349h1v1h-1zM531 349h1v1h-1zM534 349h1v1h-1zM536 349h1v1h-1zM568 349h1v1h-1zM578 349h1v1h-1zM589 349h1v1h-1zM599 349h1v1h-1zM610 349h1v1h-1zM620 349h1v1h-1zM630 349h1v1h-1zM641 349h1v1h-1zM651 349h1v1h-1zM662 349h1v1h-1zM672 349h1v1h-1zM682 349h1v1h-1zM693 349h1v1h-1zM703 349h1v1h-1zM714 349h1v1h-1zM724 349h1v1h-1zM734 349h1v1h-1zM745 349h1v1h-1zM755 349h1v1h-1zM766 349h1v1h-1zM776 349h1v1h-1zM48 350h1v1h-1zM60 350h1v1h-1zM73 350h1v1h-1zM85 350h1v1h-1zM98 350h1v1h-1zM110 350h1v1h-1zM122 350h1v1h-1zM135 350h1v1h-1zM147 350h1v1h-1zM160 350h1v1h-1zM172 350h1v1h-1zM184 350h1v1h-1zM197 350h1v1h-1zM209 350h1v1h-1zM222 350h1v1h-1zM234 350h1v1h-1zM246 350h1v1h-1zM259 350h1v1h-1zM271 350h1v1h-1zM284 350h1v1h-1zM296 350h1v1h-1zM328 350h1v1h-1zM344 350h1v1h-1zM353 350h1v1h-1zM359 350h1v1h-1zM364 350h1v1h-1zM368 350h1v1h-1zM372 350h1v1h-1zM375 350h1v1h-1zM378 350h1v1h-1zM380 350h1v1h-1zM396 350h1v1h-1zM405 350h1v1h-1zM411 350h1v1h-1zM416 350h1v1h-1zM420 350h1v1h-1zM424 350h1v1h-1zM427 350h1v1h-1zM430 350h1v1h-1zM448 350h1v1h-1zM457 350h1v1h-1zM463 350h1v1h-1zM468 350h1v1h-1zM472 350h1v1h-1zM476 350h1v1h-1zM479 350h1v1h-1zM482 350h1v1h-1zM484 350h1v1h-1zM500 350h1v1h-1zM509 350h1v1h-1zM515 350h1v1h-1zM520 350h1v1h-1zM524 350h1v1h-1zM528 350h1v1h-1zM531 350h1v1h-1zM534 350h1v1h-1zM536 350h1v1h-1zM568 350h1v1h-1zM578 350h1v1h-1zM589 350h1v1h-1zM599 350h1v1h-1zM610 350h1v1h-1zM620 350h1v1h-1zM630 350h1v1h-1zM641 350h1v1h-1zM651 350h1v1h-1zM662 350h1v1h-1zM672 350h1v1h-1zM682 350h1v1h-1zM693 350h1v1h-1zM703 350h1v1h-1zM714 350h1v1h-1zM724 350h1v1h-1zM734 350h1v1h-1zM745 350h1v1h-1zM755 350h1v1h-1zM766 350h1v1h-1zM776 350h1v1h-1zM48 351h249v1h-249zM328 351h209v1h-209zM568 351h209v1h-209z"/>
<path fill="#ff0000" d="M54 71h237v1h-237zM568 71h209v1h-209zM55 72h1v1h-1zM62 72h1v1h-1zM69 72h1v1h-1zM76 72h1v1h-1zM82 72h1v1h-1zM89 72h1v1h-1zM96 72h1v1h-1zM103 72h1v1h-1zM110 72h1v1h-1zM117 72h1v1h-1zM124 72h1v1h-1zM131 72h1v1h-1zM138 72h1v1h-1zM144 72h1v1h-1zM151 72h1v1h-1zM158 72h1v1h-1zM165 72h1v1h-1zM172 72h1v1h-1zM179 72h1v1h-1zM186 72h1v1h-1zM193 72h1v1h-1zM200 72h1v1h-1zM206 72h1v1h-1zM213 72h1v1h-1zM220 72h1v1h-1zM227 72h1v1h-1zM234 72h1v1h-1zM241 72h1v1h-1zM248 72h1v1h-1zM255 72h1v1h-1zM262 72h1v1h-1zM268 72h1v1h-1zM275 72h1v1h-1zM282 72h1v1h-1zM289 72h1v1h-1zM338 72h1v1h-1zM349 72h1v1h-1zM359 72h1v1h-1zM370 72h1v1h-1zM380 72h1v1h-1zM390 72h1v1h-1zM401 72h1v1h-1zM411 72h1v1h-1zM422 72h1v1h-1zM432 72h1v1h-1zM442 72h1v1h-1zM453 72h1v1h-1zM463 72h1v1h-1zM474 72h1v1h-1zM484 72h1v1h-1zM494 72h1v1h-1zM505 72h1v1h-1zM515 72h1v1h-1zM526 72h1v1h-1zM568 72h1v1h-1zM578 72h1v1h-1zM589 72h1v1h-1zM599 72h1v1h-1zM610 72h1v1h-1zM620 72h1v1h-1zM630 72h1v1h-1zM641 72h1v1h-1zM651 72h1v1h-1zM662 72h1v1h-1zM672 72h1v1h-1zM682 72h1v1h-1zM693 72h1v1h-1zM703 72h1v1h-1zM714 72h1v1h-1zM724 72h1v1h-1zM734 72h1v1h-1zM745 72h1v1h-1zM755 72h1v1h-1zM766 72h1v1h-1zM776 72h1v1h-1zM55 73h1v1h-1zM62 73h1v1h-1zM69 73h1v1h-1zM76 73h1v1h-1zM82 73h1v1h-1zM89 73h1v1h-1zM96 73h1v1h-1zM103 73h1v1h-1zM110 73h1v1h-1zM117 73h1v1h-1zM124 73h1v1h-1zM131 73h1v1h-1zM138 73h1v1h-1zM144 73h1v1h-1zM151 73h1v1h-1zM158 73h1v1h-1zM165 73h1v1h-1zM172 73h1v1h-1zM179 73h1v1h-1zM186 73h1v1h-1zM193 73h1v1h-1zM200 73h1v1h-1zM206 73h1v1h-1zM213 73h1v1h-1zM220 73h1v1h-1zM227 73h1v1h-1zM234 73h1v1h-1zM241 73h1v1h-1zM248 73h1v1h-1zM255 73h1v1h-1zM262 73h1v1h-1zM268 73h1v1h-1zM275 73h1v1h-1zM282 73h1v1h-1zM289 73h1v1h-1zM338 73h1v1h-1zM349 73h1v1h-1zM359 73h1v1h-1zM370 73h1v1h-1zM380 73h1v1h-1zM390 73h1v1h-1zM401 73h1v1h-1zM411 73h1v1h-1zM422 73h1v1h-1zM432 73h1v1h-1zM442 73h1v1h-1zM453 73h1v1h-1zM463 73h1v1h-1zM474 73h1v1h-1zM484 73h1v1h-1zM494 73h1v1h-1zM505 73h1v1h-1zM515 73h1v1h-1zM526 73h1v1h-1zM568 73h1v1h-1zM578 73h1v1h-1zM589 73h1v1h-1zM599 73h1v1h-1zM610 73h1v1h-1zM620 73h1v1h-1zM630 73h1v1h-1zM641 73h1v1h-1zM651 73h1v1h-1zM662 73h1v1h-1zM672 73h1v1h-1zM682 73h1v1h-1zM693 73h1v1h-1zM703 73h1v1h-1zM714 73h1v1h-1zM724 73h1v1h-1zM734 73h1v1h-1zM745 73h1v1h-1zM755 73h1v1h-1zM766 73h1v1h-1zM776 73h1v1h-1zM55 74h1v1h-1zM62 74h1v1h-1zM69 74h1v1h-1zM76 74h1v1h-1zM82 74h1v1h-1zM89 74h1v1h-1zM96 74h1v1h-1zM103 74h1v1h-1zM110 74h1v1h-1zM117 74h1v1h-1zM124 74h1v1h-1zM131 74h1v1h-1zM138 74h1v1h-1zM144 74h1v1h-1zM151 74h1v1h-1zM158 74h1v1h-1zM165 74h1v1h-1zM172 74h1v1h-1zM179 74h1v1h-1zM186 74h1v1h-1zM193 74h1v1h-1zM200 74h1v1h-1zM206 74h1v1h-1zM213 74h1v1h-1zM220 74h1v1h-1zM227 74h1v1h-1zM234 74h1v1h-1zM241 74h1v1h-1zM248 74h1v1h-1zM255 74h1v1h-1zM262 74h1v1h-1zM268 74h1v1h-1zM275 74h1v1h-1zM282 74h1v1h-1zM289 74h1v1h-1zM338 74h1v1h-1zM349 74h1v1h-1zM359 74h1v1h-1zM370 74h1v1h-1zM380 74h1v1h-1zM390 74h1v1h-1zM401 74h1v1h-1zM411 74h1v1h-1zM422 74h1v1h-1zM432 74h1v1h-1zM442 74h1v1h-1zM453 74h1v1h-1zM463 74h1v1h-1zM474 74h1v1h-1zM484 74h1v1h-1zM494 74h1v1h-1zM505 74h1v1h-1zM515 74h1v1h-1zM526 74h1v1h-1zM568 74h1v1h-1zM578 74h1v1h-1zM589 74h1v1h-1zM599 74h1v1h-1zM610 74h1v1h-1zM620 74h1v1h-1zM630 74h1v1h-1zM641 74h1v1h-1zM651 74h1v1h-1zM662 74h1v1h-1zM672 74h1v1h-1zM682 74h1v1h-1zM693 74h1v1h-1zM703 74h1v1h-1zM714 74h1v1h-1zM724 74h1v1h-1zM734 74h1v1h-1zM745 74h1v1h-1zM755 74h1v1h-1zM766 74h1v1h-1zM776 74h1v1h-1zM117 75h1v1h-1zM186 75h1v1h-1zM255 75h1v1h-1zM380 75h1v1h-1zM432 75h1v1h-1zM484 75h1v1h-1zM568 75h1v1h-1zM610 75h1v1h-1zM651 75h1v1h-1zM693 75h1v1h-1zM734 75h1v1h-1zM776 75h1v1h-1zM117 76h1v1h-1zM186 76h1v1h-1zM255 76h1v1h-1zM380 76h1v1h-1zM432 76h1v1h-1zM484 76h1v1h-1zM568 76h1v1h-1zM610 76h1v1h-1zM651 76h1v1h-1zM693 76h1v1h-1zM734 76h1v1h-1zM776 76h1v1h-1zM117 77h1v1h-1zM186 77h1v1h-1zM255 77h1v1h-1zM380 77h1v1h-1zM432 77h1v1h-1zM484 77h1v1h-1zM568 77h1v1h-1zM610 77h1v1h-1zM651 77h1v1h-1zM693 77h1v1h-1zM734 77h1v1h-1zM776 77h1v1h-1zM432 78h1v1h-1zM432 82h1v1h-1zM432 86h1v1h-1zM432 90h1v1h-1zM432 94h1v1h-1zM432 98h1v1h-1zM432 102h1v1h-1zM432 106h1v1h-1zM432 110h1v1h-1zM432 114h1v1h-1zM432 118h1v1h-1zM432 122h1v1h-1zM432 126h1v1h-1zM432 130h1v1h-1zM432 134h1v1h-1zM432 138h1v1h-1zM432 142h1v1h-1zM432 146h1v1h-1zM432 150h1v1h-1zM432 154h1v1h-1zM432 158h1v1h-1zM432 162h1v1h-1zM432 166h1v1h-1zM432 170h1v1h-1zM432 174h1v1h-1zM432 178h1v1h-1zM432 182h1v1h-1zM432 186h1v1h-1zM432 190h1v1h-1zM432 194h1v1h-1zM432 198h1v1h-1zM432 202h1v1h-1zM432 206h1v1h-1zM432 210h1v1h-1zM432 214h1v1h-1zM432 218h1v1h-1zM432 222h1v1h-1zM432 226h1v1h-1zM432 230h1v1h-1zM432 234h1v1h-1zM432 238h1v1h-1zM432 242h1v1h-1zM432 246h1v1h-1zM432 250h1v1h-1zM432 254h1v1h-1zM432 258h1v1h-1zM432 262h1v1h-1zM432 266h1v1h-1zM432 270h1v1h-1zM432 274h1v1h-1zM432 278h1v1h-1zM432 282h1v1h-1zM432 286h1v1h-1zM432 290h1v1h-1zM432 294h1v1h-1zM432 298h1v1h-1zM432 302h1v1h-1zM432 306h1v1h-1zM432 310h1v1h-1zM432 314h1v1h-1zM432 318h1v1h-1zM432 322h1v1h-1zM432 326h1v1h-1zM432 330h1v1h-1zM124 331h1v1h-1zM425 331h1v1h-1zM765 331h1v1h-1zM123 332h1v1h-1zM425 332h1v1h-1zM765 332h1v1h-1zM122 333h1v1h-1zM425 333h1v1h-1zM765 333h1v1h-1zM432 334h1v1h-1zM432 338h1v1h-1zM432 342h1v1h-1zM432 346h1v1h-1zM432 350h1v1h-1z"/>
<path fill="#b4421e" d="M127 327h1v1h-1zM424 327h2v1h-2zM764 327h2v1h-2zM128 328h1v1h-1zM423 328h4v1h-4zM762 328h5v1h-5zM128 329h1v1h-1zM423 329h4v1h-4zM762 329h5v1h-5zM127 330h1v1h-1zM423 330h4v1h-4zM763 330h4v1h-4zM118 334h5v1h-5zM423 334h5v1h-5zM764 334h5v1h-5zM118 335h5v1h-5zM423 335h5v1h-5zM764 335h5v1h-5zM118 336h5v1h-5zM423 336h5v1h-5zM764 336h5v1h-5zM119 337h3v1h-3zM424 337h3v1h-3zM765 337h3v1h-3z"/>
<text x="242.00" y="16.00" font-size="14.53" fill="#000" textLength="187.26" lengthAdjust="spacingAndGlyphs">VAD<tspan dy="-2.6">_</tspan><tspan dy="2.6">97</tspan><tspan dy="-2.6">_</tspan><tspan dy="2.6">20160921</tspan><tspan dy="-2.6">_</tspan><tspan dy="2.6">123405,</tspan></text>
<text x="435.00" y="16.00" font-size="14.53" fill="#000" textLength="123.17" lengthAdjust="spacingAndGlyphs">20160921.123422</text>
<text x="103.00" y="32.00" font-size="14.53" fill="#000" textLength="53.04" lengthAdjust="spacingAndGlyphs">Nbeams</text>
<text x="164.00" y="32.00" font-size="14.53" fill="#000" textLength="8.48" lengthAdjust="spacingAndGlyphs">=</text>
<text x="180.50" y="32.00" font-size="14.53" fill="#000" textLength="8.08" lengthAdjust="spacingAndGlyphs">8</text>
<text x="189.00" y="32.00" font-size="14.53" fill="#000" textLength="4.05" lengthAdjust="spacingAndGlyphs">,</text>
<text x="200.00" y="32.00" font-size="14.53" fill="#000" textLength="57.66" lengthAdjust="spacingAndGlyphs">Elevation</text>
<text x="264.00" y="32.00" font-size="14.53" fill="#000" textLength="35.53" lengthAdjust="spacingAndGlyphs">angle</text>
<text x="307.00" y="32.00" font-size="14.53" fill="#000" textLength="8.48" lengthAdjust="spacingAndGlyphs">=</text>
<text x="323.00" y="32.00" font-size="14.53" fill="#000" textLength="36.19" lengthAdjust="spacingAndGlyphs">50.0°</text>
<text x="358.50" y="32.00" font-size="14.53" fill="#000" textLength="4.05" lengthAdjust="spacingAndGlyphs">,</text>
<text x="368.00" y="32.00" font-size="14.53" fill="#000" textLength="32.79" lengthAdjust="spacingAndGlyphs">scan</text>
<text x="406.00" y="32.00" font-size="14.53" fill="#000" textLength="54.53" lengthAdjust="spacingAndGlyphs">duration</text>
<text x="468.00" y="32.00" font-size="14.53" fill="#000" textLength="8.48" lengthAdjust="spacingAndGlyphs">=</text>
<text x="485.00" y="32.00" font-size="14.53" fill="#000" textLength="27.22" lengthAdjust="spacingAndGlyphs">29.1</text>
<text x="520.50" y="32.00" font-size="14.53" fill="#000" textLength="7.27" lengthAdjust="spacingAndGlyphs">s</text>
<text x="528.00" y="32.00" font-size="14.53" fill="#000" textLength="4.05" lengthAdjust="spacingAndGlyphs">,</text>
<text x="538.00" y="32.00" font-size="14.53" fill="#000" textLength="28.54" lengthAdjust="spacingAndGlyphs">SNR</text>
<text x="572.00" y="32.00" font-size="14.53" fill="#000" textLength="62.54" lengthAdjust="spacingAndGlyphs">Threshold</text>
<text x="643.00" y="32.00" font-size="14.53" fill="#000" textLength="8.48" lengthAdjust="spacingAndGlyphs">=</text>
<text x="659.00" y="32.00" font-size="14.53" fill="#000" textLength="38.43" lengthAdjust="spacingAndGlyphs">0.008</text>
<text x="105.00" y="54.00" font-size="14.53" fill="#f00" textLength="29.98" lengthAdjust="spacingAndGlyphs">Wind</text>
<text x="141.00" y="54.00" font-size="14.53" fill="#f00" textLength="57.28" lengthAdjust="spacingAndGlyphs">Direction</text>
<text x="205.00" y="54.00" font-size="14.53" fill="#f00" textLength="36.01" lengthAdjust="spacingAndGlyphs">(deg)</text>
<text x="44.50" y="66.00" font-size="14.53" fill="#f00" textLength="8.08" lengthAdjust="spacingAndGlyphs">0</text>
<text x="104.20" y="66.00" font-size="14.53" fill="#f00" textLength="26.42" lengthAdjust="spacingAndGlyphs">100</text>
<text x="173.20" y="66.00" font-size="14.53" fill="#f00" textLength="25.27" lengthAdjust="spacingAndGlyphs">200</text>
<text x="241.80" y="66.00" font-size="14.53" fill="#f00" textLength="26.37" lengthAdjust="spacingAndGlyphs">300</text>
<text x="23.00" y="81.00" font-size="14.53" fill="#000" textLength="21.36" lengthAdjust="spacingAndGlyphs">2.0</text>
<text x="24.00" y="147.00" font-size="14.53" fill="#000" textLength="20.24" lengthAdjust="spacingAndGlyphs">1.5</text>
<text x="24.00" y="217.00" font-size="14.53" fill="#000" textLength="20.24" lengthAdjust="spacingAndGlyphs">1.0</text>
<text x="23.00" y="287.00" font-size="14.53" fill="#000" textLength="21.36" lengthAdjust="spacingAndGlyphs">0.5</text>
<text x="23.00" y="352.00" font-size="14.53" fill="#000" textLength="21.36" lengthAdjust="spacingAndGlyphs">0.0</text>
<text x="44.50" y="370.00" font-size="14.53" fill="#000" textLength="8.08" lengthAdjust="spacingAndGlyphs">0</text>
<text x="106.50" y="370.00" font-size="14.53" fill="#000" textLength="8.08" lengthAdjust="spacingAndGlyphs">5</text>
<text x="164.00" y="370.00" font-size="14.53" fill="#000" textLength="17.39" lengthAdjust="spacingAndGlyphs">10</text>
<text x="226.00" y="370.00" font-size="14.53" fill="#000" textLength="17.39" lengthAdjust="spacingAndGlyphs">15</text>
<text x="288.00" y="370.00" font-size="14.53" fill="#000" textLength="17.30" lengthAdjust="spacingAndGlyphs">20</text>
<text x="109.00" y="386.00" font-size="14.53" fill="#000" textLength="29.98" lengthAdjust="spacingAndGlyphs">Wind</text>
<text x="145.00" y="386.00" font-size="14.53" fill="#000" textLength="40.93" lengthAdjust="spacingAndGlyphs">Speed</text>
<text x="192.00" y="386.00" font-size="14.53" fill="#000" textLength="25.24" lengthAdjust="spacingAndGlyphs">(ms</text>
<text x="217.00" y="381.15" font-size="14.00" fill="#000" textLength="7.02" lengthAdjust="spacingAndGlyphs" style="stroke:none">−</text>
<text x="224.00" y="379.00" font-size="8.72" fill="#000" textLength="4.86" lengthAdjust="spacingAndGlyphs">1</text>
<text x="230.00" y="386.00" font-size="14.53" fill="#000" textLength="4.84" lengthAdjust="spacingAndGlyphs">)</text>
<text x="12.00" y="250.00" font-size="14.53" fill="#000" textLength="7.47" lengthAdjust="spacingAndGlyphs" transform="rotate(-90 12.00 250.00)">z</text>
<text x="12.00" y="236.00" font-size="14.53" fill="#000" textLength="26.39" lengthAdjust="spacingAndGlyphs" transform="rotate(-90 12.00 236.00)">(km</text>
<text x="12.00" y="206.00" font-size="14.53" fill="#000" textLength="32.83" lengthAdjust="spacingAndGlyphs" transform="rotate(-90 12.00 206.00)">AGL)</text>
<text x="354.00" y="54.00" font-size="14.53" fill="#f00" textLength="49.68" lengthAdjust="spacingAndGlyphs">Vertical</text>
<text x="410.00" y="54.00" font-size="14.53" fill="#f00" textLength="49.41" lengthAdjust="spacingAndGlyphs">velocity</text>
<text x="465.00" y="54.00" font-size="14.53" fill="#f00" textLength="25.24" lengthAdjust="spacingAndGlyphs">(ms</text>
<text x="491.00" y="49.15" font-size="14.00" fill="#f00" textLength="5.85" lengthAdjust="spacingAndGlyphs" style="stroke:none">−</text>
<text x="497.50" y="48.00" font-size="10.17" fill="#f00" textLength="5.66" lengthAdjust="spacingAndGlyphs">1</text>
<text x="504.00" y="54.00" font-size="14.53" fill="#f00" textLength="4.84" lengthAdjust="spacingAndGlyphs">)</text>
<text x="314.00" y="66.00" font-size="14.53" fill="#f00" textLength="28.91" lengthAdjust="spacingAndGlyphs">−10</text>
<text x="371.00" y="66.00" font-size="14.53" fill="#f00" textLength="18.77" lengthAdjust="spacingAndGlyphs">−5</text>
<text x="428.50" y="66.00" font-size="14.53" fill="#f00" textLength="8.08" lengthAdjust="spacingAndGlyphs">0</text>
<text x="480.50" y="66.00" font-size="14.53" fill="#f00" textLength="8.08" lengthAdjust="spacingAndGlyphs">5</text>
<text x="529.00" y="66.00" font-size="14.53" fill="#f00" textLength="16.16" lengthAdjust="spacingAndGlyphs">10</text>
<text x="310.00" y="370.00" font-size="14.53" fill="#000" textLength="36.33" lengthAdjust="spacingAndGlyphs">0.001</text>
<text x="361.00" y="370.00" font-size="14.53" fill="#000" textLength="38.40" lengthAdjust="spacingAndGlyphs">0.010</text>
<text x="413.00" y="370.00" font-size="14.53" fill="#000" textLength="38.40" lengthAdjust="spacingAndGlyphs">0.100</text>
<text x="465.00" y="370.00" font-size="14.53" fill="#000" textLength="38.40" lengthAdjust="spacingAndGlyphs">1.000</text>
<text x="513.00" y="370.00" font-size="14.53" fill="#000" textLength="46.47" lengthAdjust="spacingAndGlyphs">10.000</text>
<text x="418.00" y="386.00" font-size="14.53" fill="#000" textLength="28.54" lengthAdjust="spacingAndGlyphs">SNR</text>
<text x="636.00" y="54.00" font-size="14.53" fill="#f00" textLength="72.03" lengthAdjust="spacingAndGlyphs">Correlation</text>
<text x="558.00" y="66.00" font-size="14.53" fill="#f00" textLength="21.25" lengthAdjust="spacingAndGlyphs">0.0</text>
<text x="599.40" y="66.00" font-size="14.53" fill="#f00" textLength="21.25" lengthAdjust="spacingAndGlyphs">0.2</text>
<text x="640.80" y="66.00" font-size="14.53" fill="#f00" textLength="21.25" lengthAdjust="spacingAndGlyphs">0.4</text>
<text x="682.20" y="66.00" font-size="14.53" fill="#f00" textLength="21.25" lengthAdjust="spacingAndGlyphs">0.6</text>
<text x="724.60" y="66.00" font-size="14.53" fill="#f00" textLength="21.36" lengthAdjust="spacingAndGlyphs">0.8</text>
<text x="765.00" y="66.00" font-size="14.53" fill="#f00" textLength="22.49" lengthAdjust="spacingAndGlyphs">1.0</text>
<text x="564.50" y="370.00" font-size="14.53" fill="#000" textLength="8.08" lengthAdjust="spacingAndGlyphs">0</text>
<text x="605.90" y="370.00" font-size="14.53" fill="#000" textLength="8.08" lengthAdjust="spacingAndGlyphs">2</text>
<text x="647.80" y="370.00" font-size="14.53" fill="#000" textLength="8.08" lengthAdjust="spacingAndGlyphs">4</text>
<text x="689.20" y="370.00" font-size="14.53" fill="#000" textLength="8.08" lengthAdjust="spacingAndGlyphs">6</text>
<text x="730.60" y="370.00" font-size="14.53" fill="#000" textLength="8.08" lengthAdjust="spacingAndGlyphs">8</text>
<text x="768.00" y="370.00" font-size="14.53" fill="#000" textLength="17.39" lengthAdjust="spacingAndGlyphs">10</text>
<text x="620.00" y="386.00" font-size="14.53" fill="#000" textLength="55.44" lengthAdjust="spacingAndGlyphs">Residual</text>
<text x="681.00" y="386.00" font-size="14.53" fill="#000" textLength="25.24" lengthAdjust="spacingAndGlyphs">(ms</text>
<text x="706.00" y="381.15" font-size="14.00" fill="#000" textLength="7.02" lengthAdjust="spacingAndGlyphs" style="stroke:none">−</text>
<text x="713.50" y="379.00" font-size="8.72" fill="#000" textLength="4.86" lengthAdjust="spacingAndGlyphs">1</text>
<text x="719.00" y="386.00" font-size="14.53" fill="#000" textLength="4.84" lengthAdjust="spacingAndGlyphs">)</text>
<text x="586.00" y="397.00" font-size="11.63" fill="#000" textLength="20.05" lengthAdjust="spacingAndGlyphs">Plot</text>
<text x="609.00" y="397.00" font-size="11.63" fill="#000" textLength="35.64" lengthAdjust="spacingAndGlyphs">created</text>
<text x="648.00" y="397.00" font-size="11.63" fill="#000" textLength="12.94" lengthAdjust="spacingAndGlyphs">on</text>
<text x="662.00" y="397.00" font-size="11.63" fill="#000" textLength="18.38" lengthAdjust="spacingAndGlyphs">Tue</text>
<text x="684.00" y="397.00" font-size="11.63" fill="#000" textLength="18.51" lengthAdjust="spacingAndGlyphs">Nov</text>
<text x="706.00" y="397.00" font-size="11.63" fill="#000" textLength="12.94" lengthAdjust="spacingAndGlyphs">29</text>
<text x="721.00" y="397.00" font-size="11.63" fill="#000" textLength="43.21" lengthAdjust="spacingAndGlyphs">17:49:39</text>
<text x="768.00" y="397.00" font-size="11.63" fill="#000" textLength="24.80" lengthAdjust="spacingAndGlyphs">2016</text>
</svg>
</body></html>
